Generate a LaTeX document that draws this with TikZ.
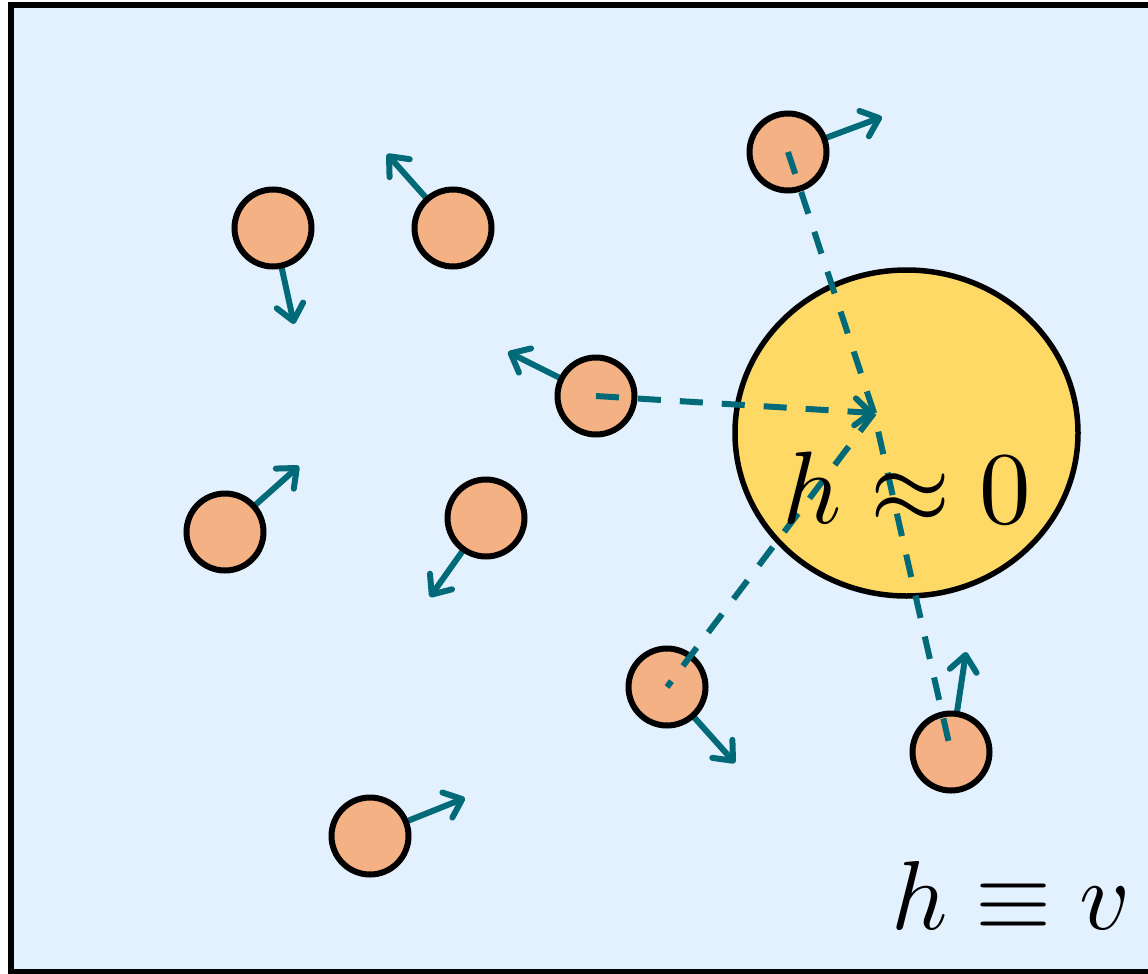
\documentclass[tikz,border=0pt]{standalone}
\usetikzlibrary{arrows.meta,shapes.geometric}
\definecolor{bgblue}{RGB}{227,241,254}
\definecolor{pcol}{RGB}{244,177,131}
\definecolor{bigcol}{RGB}{255,217,102}
\definecolor{teal}{RGB}{0,106,121}
\pgfdeclarelayer{bg}
\pgfsetlayers{bg,main}
\tikzset{
  particle/.style={circle,draw=black,line width=6pt,fill=pcol,minimum size=77pt,inner sep=0pt},
  vel/.style={draw=teal,line width=6pt,-{Straight Barb[length=16pt,width=27pt,round]}},
  dline/.style={draw=teal,line width=6pt,dash pattern=on 23pt off 19pt},
  dtip/.style={-{Straight Barb[length=16pt,width=27pt,round]}},
  label/.style={anchor=base,inner sep=0pt}
}
\begin{document}
\begin{tikzpicture}[x=1pt,y=-1pt]
\useasboundingbox (0,0) rectangle (1148,974);
\begin{pgfonlayer}{bg}
\fill[bgblue] (10,5) rectangle (1175,971);
\end{pgfonlayer}
% big region
\node[ellipse,draw=black,line width=5.5pt,fill=bigcol,minimum width=343pt,minimum height=326pt,inner sep=0pt] (big) at (906.5,433) {};
% particles
\node[particle] (p1) at (273,228) {};
\node[particle] (p2) at (453,228) {};
\node[particle] (p3) at (596,396) {};
\node[particle] (p4) at (788,152) {};
\node[particle] (p5) at (225,532) {};
\node[particle] (p6) at (486,518) {};
\node[particle] (p7) at (667,687) {};
\node[particle] (p8) at (951,752) {};
\node[particle] (p9) at (370,836) {};
% velocity tips
\coordinate (t1) at (294,324);
\coordinate (t2) at (387,154);
\coordinate (t3) at (508,352);
\coordinate (t4) at (882,117);
\coordinate (t5) at (299,466);
\coordinate (t6) at (430,597);
\coordinate (t7) at (735,763);
\coordinate (t8) at (966,652);
\coordinate (t9) at (465,798);
\begin{pgfonlayer}{bg}
\foreach \i in {1,...,9} \draw[vel] (p\i.center) -- (t\i);
\end{pgfonlayer}
% dashed connectors
\coordinate (c) at (874,413);
\draw[dline,dtip] (p3.center) -- (c);
\draw[dline] (p4.center) -- (c) -- (p8.center);
\draw[dline] (c) -- (p7.center);
% labels
\node[label,scale=10.3] (lab1) at (907,523) {$h\approx0$};
\node[label,scale=9.8] (lab2) at (1011,929) {$h\equiv v$};
% frame
\draw[line width=6pt] (10.5,5) rectangle (1180,971.5);
\end{tikzpicture}
\end{document}
